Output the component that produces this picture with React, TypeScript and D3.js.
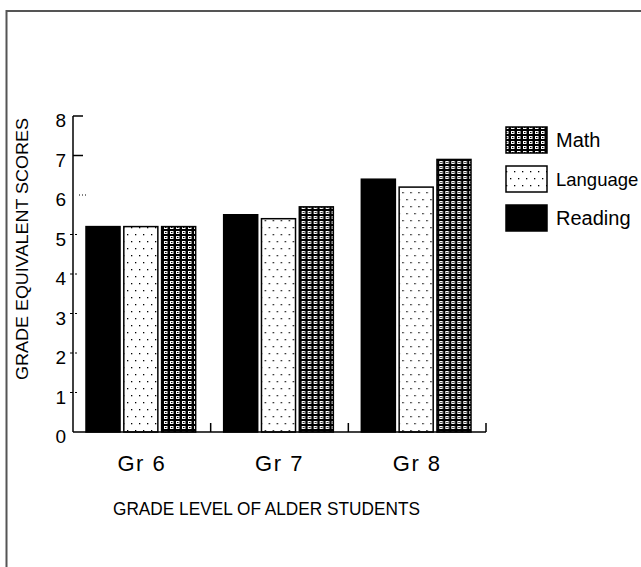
import React from "react";
import * as d3 from "d3";

const categories = ["Gr 6", "Gr 7", "Gr 8"];
const seriesNames = ["Reading", "Language", "Math"];
const reading = [5.2, 5.5, 6.4];
const language = [5.2, 5.4, 6.2];
const math = [5.2, 5.7, 6.9];
const yTicks = [0, 1, 2, 3, 4, 5, 6, 7, 8];
const legendOrder = ["Math", "Language", "Reading"];

const W = 641;
const H = 567;

export default function App() {
  const values: Record<string, number[]> = { Reading: reading, Language: language, Math: math };
  const x = d3.scaleBand<string>().domain(categories).range([73, 486]).paddingInner(0).paddingOuter(0);
  const step = x.step();
  const xs = d3.scaleBand<string>().domain(seriesNames).range([13, step - 15]).paddingInner(0.1).paddingOuter(0);
  const y = d3.scaleLinear().domain([0, 8]).range([432, 116]);
  const fill = (s: string) => (s === "Reading" ? "#000" : s === "Language" ? "url(#dots)" : "url(#checks)");
  const font = "'Liberation Sans', Arial, sans-serif";
  const legendY = d3.scalePoint<string>().domain(legendOrder).range([127, 205]);

  return (
    <div style={{ position: "absolute", left: 0, top: 0 }}>
      <svg width={W} height={H} style={{ display: "block", background: "#fff" }} fontFamily={font}>
        <defs>
          <pattern id="dots" width="8" height="14" patternUnits="userSpaceOnUse">
            <rect width="8" height="14" fill="#fff" />
            <rect x="2" y="3" width="1.3" height="1.3" fill="#000" />
            <rect x="6" y="10" width="1.3" height="1.3" fill="#000" />
          </pattern>
          <pattern id="checks" width="6" height="5" patternUnits="userSpaceOnUse">
            <rect width="6" height="5" fill="#000" />
            <rect x="1" y="1" width="3.5" height="3" fill="#fff" />
            <rect x="2" y="2" width="1.5" height="1" fill="#000" />
          </pattern>
        </defs>
        {/* frame */}
        <path d={`M6.5,${H} V11 H${W}`} fill="none" stroke="#555" strokeWidth={2} />

        {/* bars */}
        {categories.map((c, i) => (
          <g key={c} transform={`translate(${x(c)},0)`}>
            {seriesNames.map((s) => (
              <rect
                key={s}
                x={xs(s)}
                y={y(values[s][i])}
                width={xs.bandwidth()}
                height={y(0) - y(values[s][i])}
                fill={fill(s)}
                stroke="#000"
                strokeWidth={1.5}
              />
            ))}
          </g>
        ))}

        {/* axes */}
        <line x1={73} x2={73} y1={y(8)} y2={y(0)} stroke="#000" strokeWidth={1.5} />
        <line x1={73} x2={486} y1={y(0)} y2={y(0)} stroke="#000" strokeWidth={1.5} />
        {categories.map((c) => (
          <line key={c} x1={(x(c) as number) + step} x2={(x(c) as number) + step} y1={y(0)} y2={y(0) - 9} stroke="#000" strokeWidth={1.5} />
        ))}
        {yTicks.map((t) => (
          <g key={t}>
            {t >= 7 && <line x1={73} x2={83} y1={y(t)} y2={y(t)} stroke="#000" strokeWidth={1.5} />}
            {t === 6 && <line x1={79} x2={88} y1={y(t)} y2={y(t)} stroke="#000" strokeWidth={1} strokeDasharray="1,2" />}
            {t > 0 && t < 6 && <line x1={70} x2={77} y1={y(t)} y2={y(t)} stroke="#000" strokeWidth={1} strokeDasharray="3,2" />}
            <text x={66} y={y(t) + 11} textAnchor="end" fontSize={19} fill="#000">
              {t}
            </text>
          </g>
        ))}
        {categories.map((c) => (
          <text
            key={c}
            x={(x(c) as number) + step / 2}
            y={471}
            fontSize={22}
            letterSpacing={1.5}
            textAnchor="middle"
            fill="#000"
          >
            {c}
          </text>
        ))}
        <text x={113} y={515} fontSize={19} textLength={307} lengthAdjust="spacingAndGlyphs" fill="#000">
          GRADE LEVEL OF ALDER STUDENTS
        </text>
        <text
          transform="translate(28,249) rotate(-90)"
          x={-131}
          y={0}
          fontSize={17}
          textLength={262}
          lengthAdjust="spacingAndGlyphs"
          fill="#000"
        >
          GRADE EQUIVALENT SCORES
        </text>

        {/* legend */}
        {legendOrder.map((s) => (
          <g key={s}>
            <rect x={506} y={legendY(s)} width={41} height={26} fill={fill(s)} stroke="#000" strokeWidth={1.5} />
            <text
              x={556}
              y={(legendY(s) as number) + 20}
              fontSize={s === "Language" ? 18.5 : 20}
              fill="#000"
            >
              {s}
            </text>
          </g>
        ))}
      </svg>
    </div>
  );
}
